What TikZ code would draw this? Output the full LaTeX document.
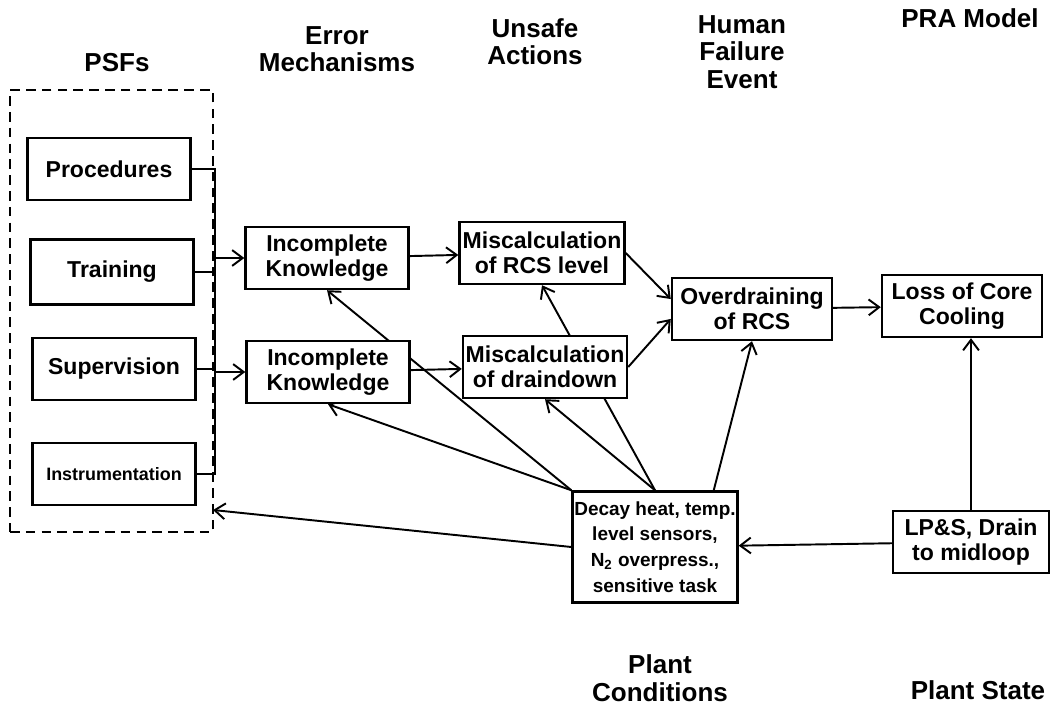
\documentclass[tikz,border=0pt]{standalone}
\usepackage{fontspec}
\setmainfont{Liberation Sans}
\usetikzlibrary{arrows.meta,backgrounds}

\begin{document}
\begin{tikzpicture}
  [
    x=0.02cm, y=-0.02cm,
    heading/.style={align=center, font=\fontsize{14.8}{15.6}\selectfont\bfseries},
    box/.style={draw, line width=1.4pt, fill=white, align=center, inner sep=1pt,
      minimum width=3.26cm, minimum height=1.24cm, font=\fontsize{13.1}{14.2}\selectfont\bfseries},
    smallbox/.style={box, font=\fontsize{10.8}{14.6}\selectfont\bfseries},
    psfbox/.style={draw, dash pattern=on 5.5pt off 3.5pt, line width=1pt,
      minimum width=4.06cm, minimum height=8.84cm},
    link/.style={line width=1.1pt},
    flow/.style={link, -{Straight Barb[length=6pt, width=9pt, line width=1.1pt]}}
  ]
  \useasboundingbox (0,0) rectangle (1054,705);

  \node[heading] (psfs) at (117,63) {PSFs};
  \node[heading] (errmech) at (337,49) {Error\\Mechanisms};
  \node[heading] (unsafe) at (535,42) {Unsafe\\Actions};
  \node[heading] (hfe) at (742,52) {Human\\Failure\\Event};
  \node[heading] (pra) at (970,18) {PRA Model};
  \node[heading] (plantcond) at (660,678) {Plant\\Conditions};
  \node[heading] (plantstate) at (978,690) {Plant State};

  \node[psfbox] (psf) at (111.5,311) {};
  \node[box] (proc) at (109,169) {Procedures};
  \node[box, minimum height=1.3cm] (train) at (112,272) {Training};
  \node[box] (superv) at (114,369) {Supervision};
  \node[box, font=\fontsize{10.2}{12}\selectfont\bfseries] (instr) at (114,474) {Instrumentation};

  \node[box] (know1) at (327,258) {Incomplete\\Knowledge};
  \node[box] (know2) at (328,372) {Incomplete\\Knowledge};
  \node[box, minimum width=3.3cm] (calclevel) at (542,253) {Miscalculation\\of RCS level};
  \node[box, minimum width=3.28cm] (calcdrain) at (545,367) {Miscalculation\\of draindown};
  \node[box, minimum width=3.2cm] (overdrain) at (752,309) {Overdraining\\of RCS};
  \node[box, minimum width=3.2cm] (corecool) at (962,306) {Loss of Core\\Cooling};
  \node[smallbox, minimum height=2.22cm] (decay) at (655,547) {Decay heat, temp.\\level sensors,\\N\textsubscript{2} overpress.,\\sensitive task};
  \node[box, minimum width=3.12cm] (lps) at (971,542) {LP\&S, Drain\\to midloop};

  \coordinate (bus) at (215,165);
  \coordinate (psfin) at (213,510);

  \begin{scope}[on background layer]
    \draw[link] (proc.east) -- (proc.east -| bus) -- (instr.east -| bus) -- (instr.east);
    \draw[link] (train.east) -- (train.east -| bus);
    \draw[link] (superv.east) -- (superv.east -| bus);
    \draw[flow] (know1.west -| bus) -- (know1.west);
    \draw[flow] (know2.west -| bus) -- (know2.west);
    \draw[flow] (know1) -- (calclevel);
    \draw[flow] (know2) -- (calcdrain);
    \draw[flow] (calclevel.east) -- (overdrain.173);
    \draw[flow] (calcdrain.east) -- (overdrain.187);
    \draw[flow] (overdrain) -- (corecool);
    \draw[flow] (lps.north) -- (lps.north |- corecool.south);
    \draw[flow] (lps) -- (decay);
    \draw[flow] (decay.west) -- (psfin);
    \draw[flow] (decay.north west) -- (know1.south);
    \draw[flow] (decay.north west) -- (know2.south);
    \draw[flow] (decay.north) -- (calcdrain.south);
    \draw[flow] (decay.north) -- (calclevel.south);
    \draw[flow] (decay.44) -- (overdrain.south);
  \end{scope}
\end{tikzpicture}
\end{document}
